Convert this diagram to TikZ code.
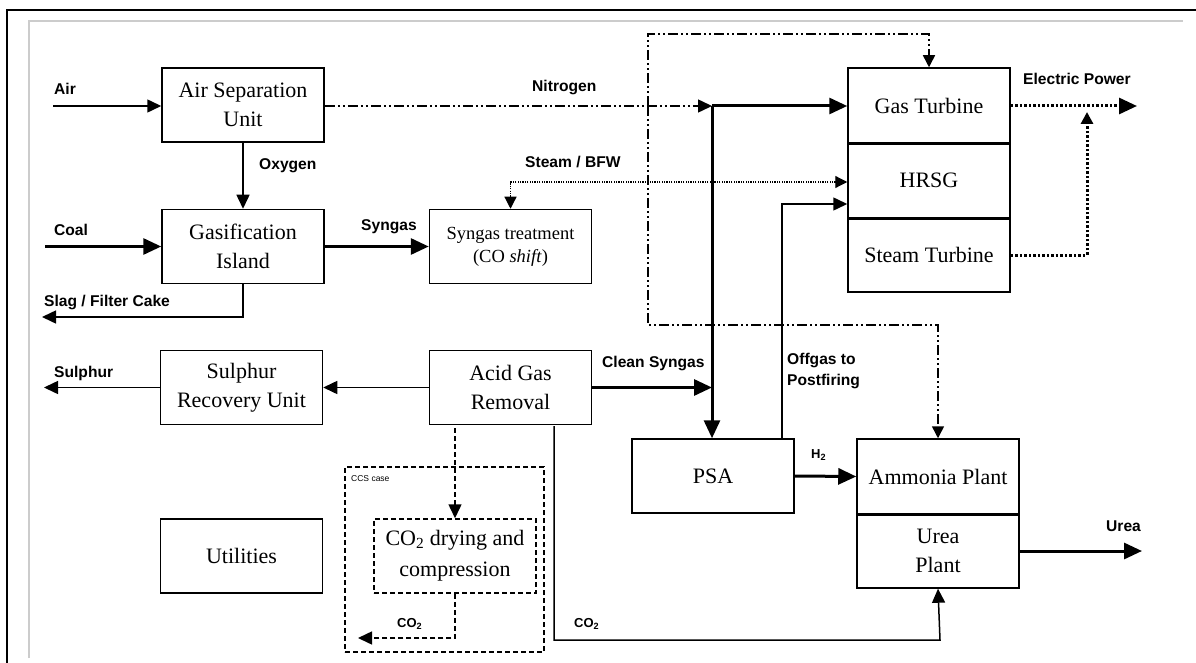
\documentclass[tikz,border=0pt]{standalone}
\usepackage{fontspec}
\setmainfont{Liberation Serif}
\newfontfamily\labfont{Liberation Sans}
\usetikzlibrary{arrows.meta,calc}
\begin{document}
\begin{tikzpicture}[x=1pt,y=-1pt,
  box/.style={draw,line width=1.5pt,minimum width=162pt,minimum height=74pt,inner sep=0pt,align=center,font=\fontsize{22}{29}\selectfont},
  dbox/.style={box,dash pattern=on 5pt off 3pt},
  lbl/.style={font=\labfont\bfseries\fontsize{15.6}{21}\selectfont,anchor=west,inner sep=0pt,align=left},
  slbl/.style={font=\labfont\bfseries\fontsize{13}{14}\selectfont,anchor=west,inner sep=0pt},
  thinl/.style={line width=1.5pt},
  thickl/.style={line width=3pt},
  tipA/.style={-{Triangle[length=14pt,width=13pt]}},
  tipB/.style={-{Triangle[length=18pt,width=16pt]}},
  tipC/.style={-{Triangle[length=12pt,width=12pt]}},
  dotl/.style={line width=1.2pt,dash pattern=on 1.2pt off 1.2pt},
  dotthick/.style={line width=3pt,dash pattern=on 2.5pt off 2pt},
  ddotl/.style={line width=1.5pt,dash pattern=on 10pt off 3pt on 2pt off 3pt on 2pt off 3pt},
  dashl/.style={line width=1.5pt,dash pattern=on 5pt off 3pt}
]
\useasboundingbox (0,0) rectangle (1196,663);
% frame
\draw[line width=2pt] (7,663) -- (7,10) -- (1196,10);
\draw[black!20,line width=1.5pt] (29,658) -- (29,21) -- (1183,21);

% boxes
\node[box] (asu) at (243,105) {Air Separation\\Unit};
\node[box] (gi) at (243,246.5) {Gasification\\Island};
\node[box,font=\fontsize{18.5}{23}\selectfont] (st) at (510.5,246.5) {Syngas treatment\\(CO \textit{shift})};
\node[box] (agr) at (510.5,387.5) {Acid Gas\\Removal};
\node[box] (sru) at (241.5,387.5) {Sulphur\\Recovery Unit};
\node[box] (util) at (241.5,556) {Utilities};
\node[dbox,font=\fontsize{22}{31}\selectfont] (dry) at (455,556) {CO\textsubscript{2} drying and\\compression};
\node[draw,dashl,minimum width=199pt,minimum height=185pt,inner sep=0pt] (ccs) at (444.5,559.5) {};
\node[font=\labfont\fontsize{8.5}{9}\selectfont,anchor=west,inner sep=0pt] (ccsl) at (351,479) {CCS case};
\node[box] (psa) at (713,476) {PSA};
\node[box,minimum height=75pt] (gt) at (929,105.5) {Gas Turbine};
\node[box,minimum height=75pt] (hrsg) at (929,180.5) {HRSG};
\node[box,minimum height=74pt] (stt) at (929,255) {Steam Turbine};
\node[box,minimum height=75pt] (amm) at (938,476.5) {Ammonia Plant};
\node[box,minimum height=74pt] (urea) at (938,551) {Urea\\Plant};
\draw[line width=2.2pt] (gt.south west) -- (gt.south east);
\draw[line width=2.2pt] (hrsg.south west) -- (hrsg.south east);
\draw[line width=2.2pt] (amm.south west) -- (amm.south east);

% coordinates
\coordinate (airin) at (53,106);
\coordinate (coalin) at (45,246.5);
\coordinate (slagout) at (42,317);
\coordinate (jn) at (712,106);
\coordinate (nbr) at (648,106);
\coordinate (ntop) at (648,34);
\coordinate (nbot) at (648,325);
\coordinate (epout) at (1137,106);
\coordinate (epjoin) at (1087,112);
\coordinate (sout) at (44,387.5);
\coordinate (co2out) at (358,638);
\coordinate (ureaout) at (1142,551);
\coordinate (agrco2) at (554,426);
\coordinate (agrdry) at (455,428);
\coordinate (offst) at (782,439);

% connectors
\draw[thinl,tipA] (airin) -- (asu.west |- airin);
\draw[thickl,tipB] (coalin) -- (gi.west);
\draw[thinl,tipA] (asu.south) -- (gi.north);
\draw[thinl,tipA] (gi.south) |- (slagout);
\draw[thickl,tipB] (gi.east) -- (st.west);
\draw[dotl,{Triangle[length=12pt,width=12pt]}-{Triangle[length=12pt,width=12pt]}] ($(hrsg.west)+(0,1.5)$) -| (st.north);
\draw[ddotl,tipA] (asu.east |- airin) -- (jn);
\draw[thickl,tipB] (jn) -- (gt.west |- jn);
\draw[thickl,tipB] (jn) -- (psa.north -| jn);
\draw[thickl,tipB] (agr.east) -- (agr.east -| jn);
\draw[thinl,tipA] (offst) |- ($(hrsg.west)+(0,23.5)$);
\draw[ddotl,tipC] (nbr) -- (ntop) -| (gt.north);
\draw[ddotl,tipC] (nbr) -- (nbot) -| (amm.north);
\draw[dotthick,tipB] (gt.east |- epout) -- (epout);
\draw[dotthick,tipC] (stt.east) -| (epjoin);
\draw[thinl,tipA] (agr.west) -- (sru.east);
\draw[thinl,tipA] (sru.west) -- (sout);
\draw[dashl,tipA] (agrdry) -- (dry.north);
\draw[dashl,tipA] (dry.south) |- (co2out);
\draw[thinl,tipA] (agrco2) |- (940,640) -- (urea.south);
\draw[thickl,tipB] (psa.east) -- (amm.west);
\draw[thickl,tipB] (urea.east) -- (ureaout);

% labels
\node[lbl] (lair) at (54,89) {Air};
\node[lbl] (loxy) at (259,166) {Oxygen};
\node[lbl] (lcoal) at (54,230) {Coal};
\node[lbl] (lslag) at (44,302) {Slag / Filter Cake};
\node[lbl] (lsyn) at (361,227) {Syngas};
\node[lbl] (lnit) at (532,88) {Nitrogen};
\node[lbl] (lstm) at (525,162) {Steam / BFW};
\node[lbl] (lep) at (1023,79) {Electric Power};
\node[lbl] (lcs) at (602,363) {Clean Syngas};
\node[lbl] (loff) at (787,370.5) {Offgas to\\Postfiring};
\node[slbl] (lh2) at (811,455) {H\textsubscript{2}};
\node[lbl] (lurea) at (1106,526) {Urea};
\node[lbl] (lsul) at (54,373) {Sulphur};
\node[slbl] (lco2a) at (397,624) {CO\textsubscript{2}};
\node[slbl] (lco2b) at (574,624) {CO\textsubscript{2}};
\end{tikzpicture}
\end{document}
